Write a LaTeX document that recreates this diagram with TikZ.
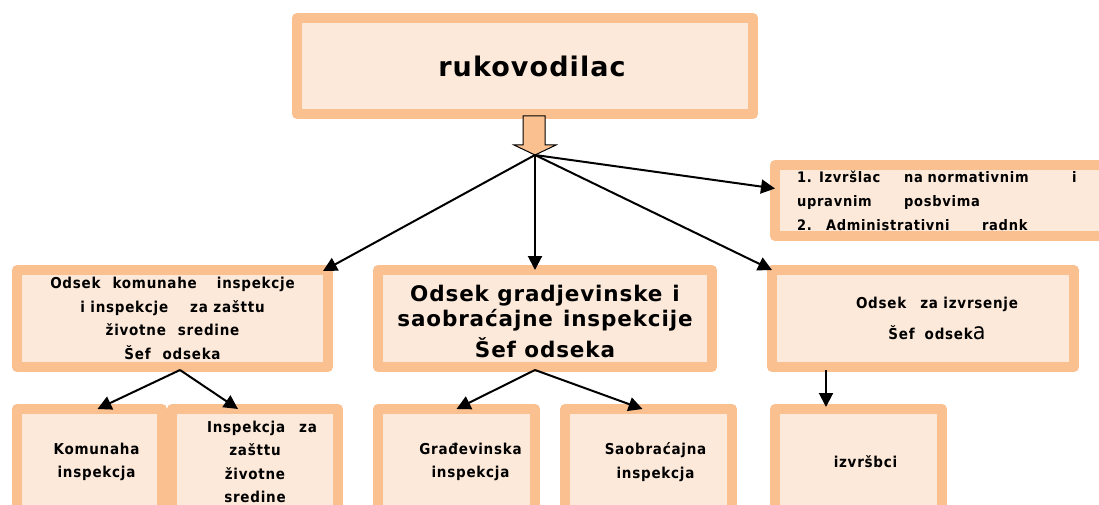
\documentclass[tikz,border=0pt]{standalone}
\usepackage{fontspec}
\setmainfont{DejaVu Sans}
\newfontfamily\bxf[LetterSpace=4]{DejaVu Sans}
\newfontfamily\nxf[LetterSpace=5,FakeStretch=0.9]{DejaVu Sans}
\usetikzlibrary{arrows.meta}
\definecolor{boxborder}{HTML}{FAC090}
\definecolor{boxfill}{HTML}{FDE9D9}
\newcommand\shr{\hspace*{14pt}}
\tikzset{
  box/.style={draw=boxborder, fill=boxfill, line width=10pt, line join=round,
    outer sep=0pt, inner sep=0pt, align=center,
    font=\nxf\bfseries\fontsize{15}{23.5}\selectfont},
  link/.style={draw=black, line width=2pt, -{Triangle[length=14pt,width=14pt]}},
  blockarrow/.style={fill=boxborder, draw=black, line width=1pt, line join=miter}
}
\begin{document}
\begin{tikzpicture}[x=1pt,y=-1pt]
\useasboundingbox (0,0) rectangle (1099,505);
\clip (0,0) rectangle (1099,505);
% top
\node[box, minimum width=456pt, minimum height=96pt,
  font=\bxf\bfseries\fontsize{27}{30}\selectfont] (top) at (525,66) {\shr rukovodilac};
% side box
\node[box, minimum width=330pt, minimum height=71pt, inner xsep=22pt,
  text width=286pt, align=left, font=\nxf\bfseries\fontsize{14.5}{24}\selectfont] (side) at (940,200.5)
  {\makebox[107pt][l]{1. Izvršlac}\makebox[168pt][l]{na normativnim}i\\
   \makebox[107pt][l]{upravnim}posbvima\\
   \makebox[29pt][l]{2.}\makebox[156pt][l]{Administrativni}radnk};
% row 2
\node[box, minimum width=311pt, minimum height=97pt] (L) at (172.5,318.5)
  {\rule{0pt}{10pt}Odsek\hspace{12pt}komunahe\hspace{20pt}inspekcje\\
   i inspekcje\hspace{22pt}za zašttu\\
   životne\hspace{12pt}sredine\\
   Šef\hspace{12pt}odseka};
\node[box, minimum width=334pt, minimum height=97pt,
  font=\bxf\bfseries\fontsize{21.5}{25}\selectfont] (M) at (545,318.5)
  {\rule{0pt}{22pt}Odsek gradjevinske\hspace{10pt}i\\
   saobraćajne\hspace{10pt}inspekcije\\[6pt]
   Šef odseka};
\node[box, minimum width=302pt, minimum height=97pt,
  font=\nxf\bfseries\fontsize{15}{31}\selectfont] (R) at (923,318.5)
  {\shr\shr Odsek\hspace{14pt}za izvrsenje\\
   \shr\shr Šef\hspace{10pt}odsek{\mdseries\fontsize{23}{23}\selectfont a}};
% row 3
\node[box, minimum width=145pt, minimum height=106pt] (A1) at (89.5,462)
  {\shr Komunaha\\ \shr inspekcja};
\node[box, minimum width=166pt, minimum height=106pt] (A2) at (255,462)
  {\shr Inspekcja\hspace{14pt}za\\ zašttu\\ životne\\ sredine};
\node[box, minimum width=157pt, minimum height=106pt] (B1) at (456.5,462)
  {\shr\shr Građevinska\\ \shr\shr inspekcja};
\node[box, minimum width=167pt, minimum height=106pt] (B2) at (648.5,462)
  {\shr Saobraćajna\\ \shr inspekcja};
\node[box, minimum width=167pt, minimum height=106pt] (C) at (858.5,462)
  {\shr izvršbci};
% block arrow
\coordinate (hub) at (535,155);
\draw[blockarrow] (523,116) -- (545,116) -- (545,145) -- (556,145) -- (hub)
  -- (514,145) -- (523,145) -- cycle;
% links
\draw[link] (hub) -- ([xshift=-5pt,yshift=-1pt]L.north east);
\draw[link] (hub) -- (hub |- M.north);
\draw[link] (hub) -- (R.north west);
\draw[link] (hub) -- ([yshift=12pt]side.west);
\coordinate (lo) at ([xshift=7.5pt,yshift=-3pt]L.south);
\draw[link] (lo) -- ([xshift=8pt]A1.north);
\draw[link] (lo) -- ([xshift=-17pt]A2.north);
\coordinate (mo) at ([yshift=-3pt]hub |- M.south);
\draw[link] (mo) -- (B1.north);
\draw[link] (mo) -- ([xshift=-6pt]B2.north);
\coordinate (ct) at ([xshift=-32.5pt,yshift=2pt]C.north);
\draw[link] ([yshift=-3pt]ct |- R.south) -- (ct);
\end{tikzpicture}
\end{document}
